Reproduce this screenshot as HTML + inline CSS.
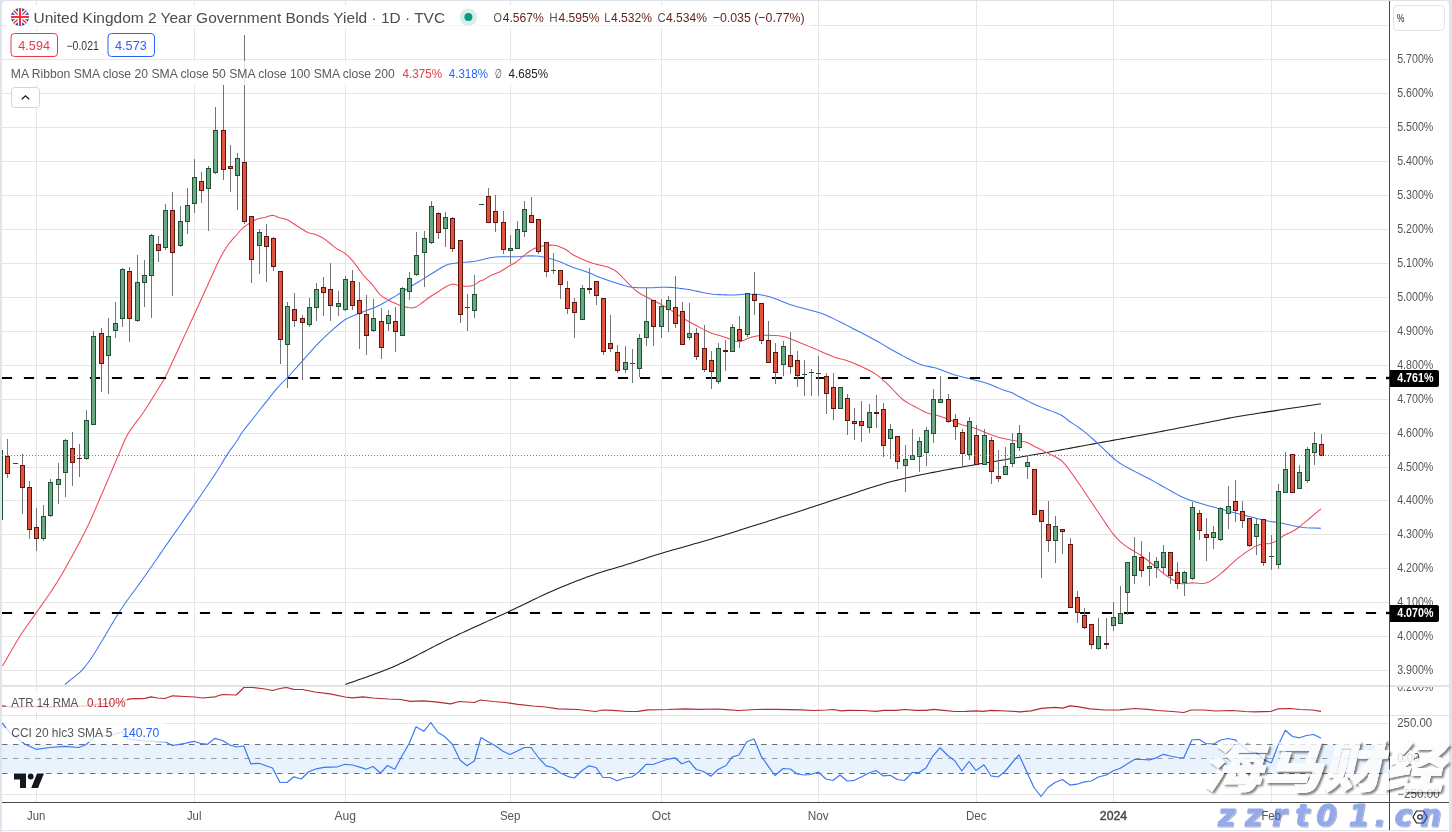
<!DOCTYPE html>
<html lang="en"><head><meta charset="utf-8"><title>United Kingdom 2 Year Government Bonds Yield</title>
<style>html,body{margin:0;padding:0;background:#fff;overflow:hidden}body{width:1452px;height:832px}svg text{white-space:pre}</style>
</head><body>
<svg width="1452" height="832" viewBox="0 0 1452 832" font-family="'Liberation Sans', sans-serif" style="display:block">
<defs>
<clipPath id="cpMain"><rect x="2" y="1" width="1387" height="684"/></clipPath>
<clipPath id="cpAtr"><rect x="2" y="687" width="1387" height="28"/></clipPath>
<clipPath id="cpCci"><rect x="2" y="716" width="1387" height="86"/></clipPath>
<clipPath id="cpAxMain"><rect x="1390" y="1" width="59" height="684"/></clipPath>
<clipPath id="cpAxAtr"><rect x="1390" y="687" width="59" height="28"/></clipPath>
<clipPath id="cpAxCci"><rect x="1390" y="716" width="59" height="86"/></clipPath>
<clipPath id="cpFlag"><circle cx="20" cy="17" r="9"/></clipPath>
<filter id="wmsh" x="-5%" y="-20%" width="110%" height="140%"><feGaussianBlur in="SourceAlpha" stdDeviation="1.1"/><feOffset dx="2" dy="2"/><feComponentTransfer><feFuncA type="linear" slope="1.5"/></feComponentTransfer><feComposite in2="SourceAlpha" operator="out" result="sh"/><feFlood flood-color="#000" flood-opacity="0.46"/><feComposite in2="sh" operator="in" result="shc"/><feMerge><feMergeNode in="shc"/><feMergeNode in="SourceGraphic"/></feMerge></filter>
<filter id="zsh" x="-5%" y="-20%" width="110%" height="140%"><feGaussianBlur in="SourceAlpha" stdDeviation="0.4"/><feOffset dx="1.4" dy="1.4"/><feComposite in2="SourceAlpha" operator="out" result="sh"/><feFlood flood-color="#3a3f60" flood-opacity="0.8"/><feComposite in2="sh" operator="in" result="shc"/><feMerge><feMergeNode in="shc"/><feMergeNode in="SourceGraphic"/></feMerge></filter>
</defs>
<rect x="0" y="0" width="1452" height="832" fill="#e0e3eb"/>
<path d="M6 1 H1445 Q1449 1 1449 5 V830 H2 V5 Q2 1 6 1 Z" fill="#fff"/>
<rect x="2" y="831" width="1447" height="1" fill="#fff"/>
<rect x="36" y="1" width="1" height="684" fill="#e6e6e6"/>
<rect x="36" y="687" width="1" height="28" fill="#e6e6e6"/>
<rect x="36" y="716" width="1" height="86" fill="#e6e6e6"/>
<rect x="194" y="1" width="1" height="684" fill="#e6e6e6"/>
<rect x="194" y="687" width="1" height="28" fill="#e6e6e6"/>
<rect x="194" y="716" width="1" height="86" fill="#e6e6e6"/>
<rect x="345" y="1" width="1" height="684" fill="#e6e6e6"/>
<rect x="345" y="687" width="1" height="28" fill="#e6e6e6"/>
<rect x="345" y="716" width="1" height="86" fill="#e6e6e6"/>
<rect x="510" y="1" width="1" height="684" fill="#e6e6e6"/>
<rect x="510" y="687" width="1" height="28" fill="#e6e6e6"/>
<rect x="510" y="716" width="1" height="86" fill="#e6e6e6"/>
<rect x="661" y="1" width="1" height="684" fill="#e6e6e6"/>
<rect x="661" y="687" width="1" height="28" fill="#e6e6e6"/>
<rect x="661" y="716" width="1" height="86" fill="#e6e6e6"/>
<rect x="818" y="1" width="1" height="684" fill="#e6e6e6"/>
<rect x="818" y="687" width="1" height="28" fill="#e6e6e6"/>
<rect x="818" y="716" width="1" height="86" fill="#e6e6e6"/>
<rect x="976" y="1" width="1" height="684" fill="#e6e6e6"/>
<rect x="976" y="687" width="1" height="28" fill="#e6e6e6"/>
<rect x="976" y="716" width="1" height="86" fill="#e6e6e6"/>
<rect x="1113" y="1" width="1" height="684" fill="#e6e6e6"/>
<rect x="1113" y="687" width="1" height="28" fill="#e6e6e6"/>
<rect x="1113" y="716" width="1" height="86" fill="#e6e6e6"/>
<rect x="1271" y="1" width="1" height="684" fill="#e6e6e6"/>
<rect x="1271" y="687" width="1" height="28" fill="#e6e6e6"/>
<rect x="1271" y="716" width="1" height="86" fill="#e6e6e6"/>
<rect x="2" y="25" width="1387" height="1" fill="#e6e6e6"/>
<rect x="2" y="59" width="1387" height="1" fill="#e6e6e6"/>
<rect x="2" y="93" width="1387" height="1" fill="#e6e6e6"/>
<rect x="2" y="127" width="1387" height="1" fill="#e6e6e6"/>
<rect x="2" y="161" width="1387" height="1" fill="#e6e6e6"/>
<rect x="2" y="195" width="1387" height="1" fill="#e6e6e6"/>
<rect x="2" y="229" width="1387" height="1" fill="#e6e6e6"/>
<rect x="2" y="263" width="1387" height="1" fill="#e6e6e6"/>
<rect x="2" y="297" width="1387" height="1" fill="#e6e6e6"/>
<rect x="2" y="331" width="1387" height="1" fill="#e6e6e6"/>
<rect x="2" y="365" width="1387" height="1" fill="#e6e6e6"/>
<rect x="2" y="399" width="1387" height="1" fill="#e6e6e6"/>
<rect x="2" y="433" width="1387" height="1" fill="#e6e6e6"/>
<rect x="2" y="467" width="1387" height="1" fill="#e6e6e6"/>
<rect x="2" y="500" width="1387" height="1" fill="#e6e6e6"/>
<rect x="2" y="534" width="1387" height="1" fill="#e6e6e6"/>
<rect x="2" y="568" width="1387" height="1" fill="#e6e6e6"/>
<rect x="2" y="602" width="1387" height="1" fill="#e6e6e6"/>
<rect x="2" y="636" width="1387" height="1" fill="#e6e6e6"/>
<rect x="2" y="670" width="1387" height="1" fill="#e6e6e6"/>
<rect x="2" y="723" width="1387" height="1" fill="#e6e6e6"/>
<rect x="2" y="794" width="1387" height="1" fill="#e6e6e6"/>
<g clip-path="url(#cpMain)">
<polyline points="345.5,684.5 348.58,683.36 351.65,682.25 354.7,681.16 357.75,680.09 360.78,679.02 363.82,677.96 366.86,676.89 369.91,675.81 372.96,674.72 376.03,673.6 379.13,672.45 382.24,671.26 385.38,670.03 388.55,668.74 391.76,667.4 395,666 397.91,664.7 400.84,663.34 403.79,661.94 406.76,660.49 409.74,659.01 412.74,657.5 415.76,655.96 418.79,654.4 421.84,652.81 424.91,651.22 427.99,649.61 431.09,648 434.21,646.39 437.34,644.78 440.48,643.19 443.64,641.6 446.81,640.04 450,638.5 452.91,637.11 455.89,635.71 458.92,634.29 462,632.86 465.12,631.43 468.26,629.98 471.43,628.54 474.6,627.09 477.77,625.65 480.94,624.22 484.08,622.8 487.2,621.39 490.28,620 493.31,618.63 496.29,617.28 499.2,615.96 502.04,614.66 504.79,613.41 507.45,612.18 510,611 513.73,609.25 517.26,607.58 520.6,605.97 523.78,604.43 526.84,602.94 529.8,601.49 532.69,600.08 535.53,598.7 538.35,597.35 541.18,596.01 544.05,594.67 546.98,593.34 550,592 553.08,590.66 556.15,589.34 559.23,588.03 562.31,586.74 565.38,585.47 568.46,584.21 571.54,582.98 574.62,581.76 577.69,580.57 580.77,579.39 583.85,578.24 586.92,577.11 590,576 593.1,574.92 596.24,573.86 599.42,572.83 602.6,571.81 605.79,570.82 608.98,569.85 612.14,568.9 615.27,567.97 618.36,567.05 621.38,566.14 624.34,565.25 627.22,564.37 630,563.5 633.31,562.44 636.23,561.48 638.89,560.6 641.42,559.75 643.94,558.91 646.58,558.03 649.48,557.08 652.77,556.04 656.56,554.85 661,553.5 663.33,552.8 665.75,552.08 668.26,551.35 670.86,550.6 673.53,549.82 676.29,549.03 679.13,548.22 682.04,547.39 685.03,546.54 688.1,545.66 691.23,544.77 694.43,543.85 697.7,542.91 701.04,541.94 704.43,540.96 707.89,539.94 711.4,538.91 714.97,537.84 718.6,536.76 722.27,535.64 726,534.5 728.67,533.67 731.44,532.82 734.29,531.93 737.23,531.01 740.23,530.07 743.3,529.1 746.43,528.12 749.61,527.11 752.83,526.09 756.09,525.06 759.38,524.01 762.7,522.95 766.03,521.89 769.37,520.82 772.72,519.75 776.06,518.68 779.39,517.61 782.7,516.55 785.99,515.49 789.24,514.44 792.46,513.41 795.63,512.39 798.74,511.38 801.8,510.4 804.79,509.43 807.71,508.49 810.54,507.57 813.29,506.68 815.95,505.83 818.5,505 822.39,503.74 826.17,502.5 829.84,501.29 833.4,500.11 836.86,498.96 840.22,497.84 843.48,496.74 846.64,495.68 849.72,494.64 852.7,493.64 855.6,492.66 858.41,491.72 861.14,490.81 863.8,489.92 866.38,489.07 868.88,488.26 871.32,487.47 873.69,486.72 876,486 880.46,484.64 884.31,483.51 887.68,482.56 890.7,481.74 893.49,481.03 896.19,480.37 898.92,479.72 901.82,479.05 905,478.3 908.02,477.6 911.03,476.92 914.05,476.26 917.09,475.61 920.16,474.98 923.29,474.34 926.49,473.7 929.79,473.05 933.18,472.38 936.7,471.7 939.51,471.16 942.43,470.6 945.43,470.04 948.51,469.47 951.63,468.89 954.8,468.31 957.99,467.73 961.19,467.15 964.37,466.58 967.53,466.02 970.65,465.46 973.71,464.92 976.7,464.4 979.88,463.85 983.03,463.31 986.16,462.78 989.27,462.27 992.35,461.76 995.41,461.26 998.45,460.76 1001.46,460.27 1004.45,459.78 1007.42,459.29 1010.37,458.79 1013.3,458.3 1016.39,457.77 1019.34,457.27 1022.19,456.79 1024.98,456.31 1027.76,455.83 1030.58,455.35 1033.47,454.85 1036.48,454.32 1039.66,453.76 1043.05,453.15 1046.7,452.5 1049.37,452.02 1052.16,451.51 1055.05,450.98 1058.03,450.44 1061.1,449.87 1064.23,449.29 1067.43,448.7 1070.66,448.11 1073.93,447.5 1077.22,446.89 1080.52,446.28 1083.81,445.67 1087.09,445.07 1090.34,444.47 1093.54,443.88 1096.7,443.3 1099.85,442.72 1103.04,442.14 1106.27,441.56 1109.51,440.97 1112.77,440.38 1116.04,439.79 1119.3,439.2 1122.54,438.61 1125.75,438.03 1128.93,437.45 1132.06,436.89 1135.14,436.33 1138.15,435.77 1141.09,435.24 1143.94,434.71 1146.7,434.2 1150.22,433.54 1153.57,432.91 1156.79,432.31 1159.89,431.72 1162.89,431.14 1165.83,430.58 1168.72,430.02 1171.59,429.47 1174.46,428.91 1177.35,428.35 1180.29,427.78 1183.3,427.2 1186.4,426.6 1189.59,425.97 1192.84,425.34 1196.11,424.7 1199.38,424.05 1202.62,423.41 1205.82,422.78 1208.93,422.17 1211.93,421.58 1214.79,421.02 1217.49,420.49 1220,420 1223.31,419.33 1225.42,418.87 1227,418.5 1228.7,418.13 1231.16,417.65 1235.04,416.98 1241,416 1243.03,415.67 1245.22,415.33 1247.57,414.96 1250.06,414.56 1252.68,414.16 1255.43,413.73 1258.3,413.29 1261.26,412.83 1264.33,412.36 1267.47,411.87 1270.69,411.38 1273.98,410.88 1277.31,410.37 1280.69,409.85 1284.11,409.33 1287.55,408.81 1291,408.28 1294.45,407.76 1297.9,407.23 1301.33,406.71 1304.73,406.19 1308.1,405.68 1311.42,405.17 1314.69,404.67 1317.88,404.18 1321,403.7" fill="none" stroke="#1a1a1a" stroke-width="1.05" stroke-linejoin="round" stroke-linecap="butt"/>
<polyline points="65,684.5 68.13,681.78 71.14,679.42 74.12,677.15 77.16,674.7 80.34,671.8 83.76,668.15 87.5,663.5 90.39,659.43 93.51,654.69 96.81,649.43 100.24,643.8 103.72,637.96 107.2,632.06 110.63,626.26 113.95,620.71 117.09,615.57 120,611 123.79,605.32 127.29,600.28 130.57,595.71 133.71,591.44 136.78,587.3 139.85,583.11 143,578.7 146.32,573.97 149.76,569.02 153.22,564.04 156.58,559.18 159.74,554.6 162.58,550.49 165,547 169.22,540.89 173.3,535 176.04,531.08 179.27,526.46 182.86,521.33 186.65,515.91 190.48,510.4 194.2,505 197.44,500.27 200.88,495.23 204.39,490.07 207.85,484.96 211.14,480.07 214.13,475.59 216.7,471.7 220.93,464.97 223.77,460.14 226.7,455.4 230.49,449.88 234.37,444.46 237.5,440 239.33,436.77 241.5,433.3 244.01,429.95 247.14,425.94 250.83,421.28 255,416 257.77,412.48 260.92,408.46 264.3,404.15 267.73,399.8 271.06,395.62 274.1,391.84 276.7,388.7 280.95,383.98 283.99,381.04 287.5,377.5 290.22,374.52 293.16,371.25 296.24,367.8 299.38,364.28 302.5,360.8 305.62,357.3 308.8,353.69 312,350.09 315.18,346.6 318.3,343.3 321.4,340.19 324.52,337.19 327.58,334.35 330.52,331.67 333.3,329.2 337.57,325.49 341.47,322.28 345,319.7 349.26,317.41 353.3,315.8 356.26,314.54 359.41,313.27 363.3,311.7 366.16,310.61 369.34,309.45 372.76,308.16 376.34,306.7 380,305 383.22,303.3 386.67,301.34 390.21,299.25 393.71,297.13 397.02,295.11 400,293.3 403.76,291.01 406.96,288.99 410.01,287.06 413.3,285 416.16,283.23 419.1,281.43 422.1,279.59 425.16,277.71 428.3,275.8 431.64,273.72 435.18,271.46 438.72,269.24 442.06,267.25 445,265.7 448.46,264.29 451.17,263.71 455,263.2 457.79,262.86 461.05,262.56 464.58,262.27 468.21,261.97 471.74,261.63 475,261.2 478.63,260.52 482.16,259.7 485.55,258.85 488.74,258.08 491.7,257.5 495.88,256.99 499.49,256.8 503.3,256.7 506.49,256.66 509.79,256.71 513.2,256.74 516.7,256.7 519.65,256.54 522.75,256.3 525.87,256.05 528.89,255.86 531.7,255.8 535.69,255.93 539.31,256.3 543.3,257 546.08,257.61 549.06,258.36 552.14,259.22 555.25,260.18 558.3,261.2 561.3,262.35 564.3,263.63 567.3,264.97 570.3,266.29 573.3,267.5 576.35,268.58 579.46,269.59 582.54,270.56 585.51,271.52 588.3,272.5 592.14,274.1 595.61,275.71 600,277.5 602.95,278.56 606.36,279.74 610,280.98 613.64,282.18 617.05,283.28 620,284.2 624.27,285.56 627.62,286.51 631.7,287.2 634.39,287.45 637.37,287.62 640.54,287.73 643.77,287.78 646.97,287.8 650,287.8 653.36,287.71 656.56,287.51 659.74,287.29 663.07,287.15 666.7,287.2 669.53,287.36 672.51,287.59 675.61,287.88 678.78,288.22 681.98,288.61 685.17,289.04 688.3,289.5 691.39,290.04 694.49,290.67 697.59,291.37 700.69,292.07 703.8,292.74 706.9,293.33 710,293.8 713.16,294.15 716.4,294.43 719.65,294.64 722.87,294.79 725.99,294.89 728.95,294.96 731.7,295 735.16,294.95 738.26,294.76 741.14,294.52 743.92,294.31 746.7,294.2 750.14,294.17 753.46,294.19 756.71,294.35 760,294.7 763.21,295.24 766.34,295.94 769.63,296.85 773.3,298 775.95,298.95 778.68,300.04 781.54,301.24 784.6,302.49 787.9,303.76 791.5,305 794.19,305.83 797.19,306.68 800.39,307.56 803.69,308.44 807.01,309.31 810.25,310.17 813.31,310.99 816.09,311.77 818.5,312.5 822.47,313.81 825.19,314.84 827.69,315.96 831,317.5 833.85,318.85 836.96,320.37 840.28,322.03 843.76,323.8 847.35,325.63 851,327.5 853.82,328.94 856.77,330.45 859.81,332 862.89,333.59 865.99,335.2 869.07,336.82 872.08,338.42 875,340 878.21,341.79 881.32,343.59 884.38,345.4 887.41,347.2 890.45,348.99 893.54,350.76 896.7,352.5 900,354.28 903.43,356.12 906.92,357.97 910.39,359.76 913.78,361.43 917,362.93 920,364.2 923.76,365.47 927.16,366.29 930.34,366.87 933.47,367.47 936.7,368.3 940.02,369.44 943.34,370.72 946.66,372.06 949.98,373.35 953.3,374.5 956.63,375.48 959.97,376.35 963.32,377.16 966.66,377.96 970,378.8 973.34,379.65 976.68,380.48 980.03,381.33 983.37,382.26 986.7,383.3 990.16,384.57 993.75,386.02 997.27,387.52 1000.52,388.89 1003.3,390 1008.16,391.51 1011.5,392.5 1013.01,393.28 1016,395 1018.38,396.23 1021.33,397.78 1024.72,399.53 1028.39,401.39 1032.2,403.25 1036,405 1039.01,406.28 1042.33,407.62 1045.82,408.97 1049.34,410.31 1052.76,411.62 1055.93,412.85 1058.73,413.99 1061,415 1064.82,417.45 1067.5,420 1070.1,421.77 1073.27,423.86 1076.71,426.14 1080.14,428.49 1083.3,430.8 1086.82,433.64 1090.16,436.54 1093.41,439.5 1096.7,442.5 1100.11,445.67 1103.56,448.96 1106.91,452.15 1110,455 1113.27,458.01 1116.17,460.56 1120,463.3 1122.65,464.92 1125.73,466.66 1129.04,468.45 1132.38,470.21 1135.54,471.85 1138.3,473.3 1142.63,475.51 1146.23,477.27 1150,479.2 1153.06,480.89 1156.13,482.64 1159.47,484.56 1163.3,486.7 1166.28,488.37 1169.59,490.24 1173.09,492.21 1176.63,494.15 1180.08,495.95 1183.3,497.5 1186.85,499 1190.22,500.23 1193.48,501.3 1196.71,502.29 1200,503.3 1203.34,504.31 1206.68,505.27 1210.03,506.19 1213.37,507.09 1216.7,508 1220.02,508.92 1223.34,509.83 1226.66,510.73 1229.98,511.62 1233.3,512.5 1236.63,513.36 1239.97,514.21 1243.32,515.04 1246.66,515.87 1250,516.7 1253.39,517.56 1256.84,518.45 1260.26,519.32 1263.58,520.12 1266.7,520.8 1270.26,521.42 1273.56,521.87 1276.75,522.28 1280,522.8 1283.32,523.5 1286.64,524.3 1289.97,525.1 1293.3,525.8 1296.62,526.41 1299.94,526.96 1303.28,527.44 1306.7,527.8 1310.21,528.01 1313.79,528.1 1317.4,528.14 1321,528.2" fill="none" stroke="#3d78f2" stroke-width="1.05" stroke-linejoin="round" stroke-linecap="butt"/>
<polyline points="2.5,666 6,659.92 9.5,653.76 13,647.64 16.5,641.68 20,636 23.43,630.8 26.8,625.99 30.2,621.29 33.73,616.39 37.5,611 40.34,606.9 43.27,602.73 46.29,598.44 49.39,593.95 52.58,589.21 55.85,584.15 59.2,578.7 62.3,573.44 65.61,567.66 69.05,561.55 72.52,555.27 75.94,548.97 79.21,542.84 82.26,537.02 85,531.7 88.64,524.3 91.62,517.82 94.28,511.69 96.96,505.37 100,498.3 102.96,491.46 106.16,483.93 109.46,476.14 112.69,468.51 115.69,461.46 118.3,455.4 122.06,446.44 124.9,439.8 128.3,433.3 130.99,429.08 133.98,424.97 137.12,420.88 140.27,416.75 143.3,412.5 147.06,406.76 150.87,400.73 154.44,394.96 157.5,390 161.62,383.44 165,377.5 168.37,370.68 173.3,360 175.99,354.2 179.22,347.23 182.78,339.55 186.44,331.6 190.02,323.83 193.3,316.7 196.96,308.7 200.54,300.82 203.96,293.28 207.14,286.27 210,280 213.86,271.41 216.97,264.48 220,258.3 223.19,252.56 226.29,247.56 229.2,243.3 233.11,238.68 236.7,235 239.63,231.25 243.3,227.5 246.29,225.33 249.89,222.99 253.55,220.83 256.7,219.2 261.22,217.97 265,217.5 268.91,216.1 272.5,215.2 275.34,216.08 278.3,217.5 282.14,218.19 286.7,219.5 290.39,221.56 294.43,224.19 298.3,226.7 301.94,229 305.4,231.19 308.3,232.8 310.8,233.4 313.3,233.8 316.14,234.82 319.53,236.23 323.3,238.3 326.53,240.62 330.11,243.49 333.63,246.37 336.7,248.7 341.17,251.12 345,253.3 349.04,256.96 353.3,261.7 356.51,265.86 359.9,270.57 363.3,275 366.76,278.86 370.21,282.43 373.3,285.8 376.76,290.59 380,294.7 383.84,297.57 388.3,300 392.07,301.91 396.23,303.83 400,305.4 404.41,306.87 408.3,307.6 411.89,307.98 415.8,307.1 419.4,304.85 423.38,301.77 426.7,299.2 429.47,297.26 431.7,295.8 434.89,293.82 438.3,291.7 441.62,289.38 445,287.2 448.61,285.37 452,284.2 454.44,284.34 457,285 460.81,285.69 465,286.2 469.06,286.26 473,285.6 476.79,283.33 480,281 481.56,280.52 483.3,280 487.19,277.64 491.7,275 495.75,273.42 500,271.7 503.33,269.76 506.85,267.5 510,265.5 513.35,263.74 516.7,261.7 519.79,259.14 523.24,256.08 526.7,253.3 529.91,251.05 533.12,249.09 536.7,247.5 539.91,246.55 543.46,245.81 546.95,245.28 550,245 554.46,245.26 558.3,246.3 562.61,247.92 566.7,250 569.59,252.31 573.3,255 575.84,256.29 578.94,257.74 582.26,259.2 585.49,260.57 588.3,261.7 592.06,263.01 595.27,263.91 598.3,264.7 602.92,265.81 606.7,266.7 608.46,267.24 610,268 613.04,269.41 616.7,271.7 620.85,275.66 625,280 628.46,283.51 631.7,286.7 634.69,289.62 638.3,292.5 641.64,294.47 645.54,296.5 650,298.8 653.02,300.35 656.32,302.01 659.79,303.75 663.29,305.59 666.7,307.5 670.08,309.58 673.5,311.83 676.9,314.12 680.19,316.32 683.3,318.3 686.88,320.43 690.21,322.31 693.43,324.06 696.7,325.8 700.03,327.59 703.36,329.36 706.68,331.02 710,332.5 713.4,333.74 716.86,334.79 720.21,335.75 723.3,336.7 727,338.03 730.33,339.29 733.3,340.3 736.65,341.49 740,341.7 743.15,340.62 746.67,338.92 750,337.5 754.25,336.42 758.3,335.8 762.08,335.39 766.7,335.3 769.33,335.34 772.39,335.42 775.63,335.56 778.81,335.81 781.7,336.2 785.57,337.11 789.06,338.35 793.3,340 795.94,341.02 798.81,342.16 801.88,343.41 805.08,344.74 808.37,346.11 811.7,347.5 814.66,348.76 817.78,350.13 820.99,351.54 824.22,352.96 827.39,354.33 830.44,355.59 833.3,356.7 836.9,357.9 840.17,358.81 843.32,359.61 846.53,360.5 850,361.7 853.24,362.99 856.73,364.47 860.31,366.06 863.83,367.7 867.11,369.3 870,370.8 874.52,373.43 878.11,375.94 881.7,378.8 885.63,382.34 889.56,386.24 893.3,390 896.69,393.54 899.9,396.96 903.3,400 907.07,402.5 911.04,404.63 915,406.7 918.9,408.89 922.81,411.02 926.7,412.8 930.57,413.99 934.43,414.83 938.3,415.8 942.19,417.09 946.1,418.52 950,420 953.84,421.57 957.68,423.2 961.7,424.7 964.83,425.6 968.04,426.37 971.4,427.21 975,428.3 978.23,429.5 981.76,430.93 985.34,432.44 988.73,433.85 991.7,435 995.41,436.28 998.37,437.15 1001.7,438 1004.85,438.75 1008.3,439.51 1011.77,440.22 1015,440.8 1018.84,441.19 1022.41,441.4 1025.8,442 1028.77,443.2 1031.56,444.8 1035,446.7 1037.68,448.04 1040.74,449.54 1043.96,451.13 1047.12,452.71 1050,454.2 1054.21,456.25 1058.05,458.2 1061.7,460.8 1065.1,464.37 1068.31,468.6 1071.7,473.3 1075.38,478.43 1079.24,484.03 1083.3,490 1086.45,494.67 1089.69,499.53 1093.08,504.63 1096.7,510 1099.92,514.8 1103.43,520.06 1106.98,525.34 1110.35,530.2 1113.3,534.2 1117.12,538.71 1120.21,541.64 1123.3,544.2 1126.63,546.67 1129.97,548.76 1133.3,550.8 1136.63,552.83 1139.97,554.81 1143.3,557 1146.63,559.52 1149.97,562.24 1153.3,565 1156.63,567.8 1159.97,570.64 1163.3,573.3 1166.69,575.76 1170.09,578.04 1173.3,580 1177.5,582.38 1181.7,583.8 1184.79,583.77 1188.06,583.2 1191.7,582.8 1194.91,582.93 1198.46,583.24 1201.95,583.46 1205,583.3 1209.25,581.86 1213.3,579.2 1216.95,576.57 1220.97,573.37 1225,570 1228.84,566.47 1232.68,562.77 1236.7,559.2 1239.99,556.61 1243.46,554.05 1246.87,551.66 1250,549.6 1253.58,547.39 1256.79,545.66 1260,544.4 1263.46,543.81 1266.91,543.7 1270,543.4 1273.56,542.35 1276.7,540.8 1279.69,538.5 1283.3,535.8 1286.82,534.05 1290.91,532.21 1295,530 1298.8,527.29 1302.61,524.2 1306.7,520.8 1310.09,518 1313.69,514.97 1317.36,511.87 1321,508.8" fill="none" stroke="#f0475a" stroke-width="1.05" stroke-linejoin="round" stroke-linecap="butt"/>
<line x1="1.9" y1="378" x2="1390" y2="378" stroke="#000" stroke-width="2.2" stroke-dasharray="10.2 11.8"/>
<line x1="1.9" y1="613" x2="1390" y2="613" stroke="#000" stroke-width="2.2" stroke-dasharray="10.2 11.8"/>
<rect x="0" y="450" width="1" height="70" fill="#737378"/>
<rect x="-2" y="450" width="5" height="70" fill="#1e5233"/>
<rect x="-1" y="451" width="3" height="68" fill="#6aa883"/>
<rect x="7" y="439" width="1" height="39" fill="#737378"/>
<rect x="5" y="456" width="5" height="18" fill="#5c1610"/>
<rect x="6" y="457" width="3" height="16" fill="#e0543f"/>
<rect x="15" y="463" width="1" height="1" fill="#737378"/>
<rect x="13" y="463" width="5" height="1" fill="#1e5233"/>
<rect x="22" y="454" width="1" height="60" fill="#737378"/>
<rect x="20" y="465" width="5" height="23" fill="#5c1610"/>
<rect x="21" y="466" width="3" height="21" fill="#e0543f"/>
<rect x="29" y="481" width="1" height="58" fill="#737378"/>
<rect x="27" y="487" width="5" height="43" fill="#5c1610"/>
<rect x="28" y="488" width="3" height="41" fill="#e0543f"/>
<rect x="36" y="508" width="1" height="43" fill="#737378"/>
<rect x="34" y="527" width="5" height="12" fill="#5c1610"/>
<rect x="35" y="528" width="3" height="10" fill="#e0543f"/>
<rect x="43" y="505" width="1" height="36" fill="#737378"/>
<rect x="41" y="516" width="5" height="23" fill="#1e5233"/>
<rect x="42" y="517" width="3" height="21" fill="#6aa883"/>
<rect x="50" y="479" width="1" height="38" fill="#737378"/>
<rect x="48" y="482" width="5" height="34" fill="#1e5233"/>
<rect x="49" y="483" width="3" height="32" fill="#6aa883"/>
<rect x="58" y="463" width="1" height="41" fill="#737378"/>
<rect x="56" y="479" width="5" height="6" fill="#1e5233"/>
<rect x="57" y="480" width="3" height="4" fill="#6aa883"/>
<rect x="65" y="439" width="1" height="58" fill="#737378"/>
<rect x="63" y="440" width="5" height="33" fill="#1e5233"/>
<rect x="64" y="441" width="3" height="31" fill="#6aa883"/>
<rect x="72" y="432" width="1" height="54" fill="#737378"/>
<rect x="70" y="448" width="5" height="15" fill="#5c1610"/>
<rect x="71" y="449" width="3" height="13" fill="#e0543f"/>
<rect x="79" y="444" width="1" height="33" fill="#737378"/>
<rect x="77" y="458" width="5" height="1" fill="#5c1610"/>
<rect x="86" y="410" width="1" height="50" fill="#737378"/>
<rect x="84" y="420" width="5" height="39" fill="#1e5233"/>
<rect x="85" y="421" width="3" height="37" fill="#6aa883"/>
<rect x="93" y="331" width="1" height="94" fill="#737378"/>
<rect x="91" y="336" width="5" height="89" fill="#1e5233"/>
<rect x="92" y="337" width="3" height="87" fill="#6aa883"/>
<rect x="101" y="328" width="1" height="64" fill="#737378"/>
<rect x="99" y="333" width="5" height="31" fill="#5c1610"/>
<rect x="100" y="334" width="3" height="29" fill="#e0543f"/>
<rect x="108" y="318" width="1" height="76" fill="#737378"/>
<rect x="106" y="336" width="5" height="20" fill="#1e5233"/>
<rect x="107" y="337" width="3" height="18" fill="#6aa883"/>
<rect x="115" y="302" width="1" height="36" fill="#737378"/>
<rect x="113" y="323" width="5" height="8" fill="#1e5233"/>
<rect x="114" y="324" width="3" height="6" fill="#6aa883"/>
<rect x="122" y="268" width="1" height="59" fill="#737378"/>
<rect x="120" y="269" width="5" height="50" fill="#1e5233"/>
<rect x="121" y="270" width="3" height="48" fill="#6aa883"/>
<rect x="129" y="267" width="1" height="75" fill="#737378"/>
<rect x="127" y="271" width="5" height="48" fill="#5c1610"/>
<rect x="128" y="272" width="3" height="46" fill="#e0543f"/>
<rect x="137" y="255" width="1" height="67" fill="#737378"/>
<rect x="135" y="282" width="5" height="39" fill="#1e5233"/>
<rect x="136" y="283" width="3" height="37" fill="#6aa883"/>
<rect x="144" y="260" width="1" height="47" fill="#737378"/>
<rect x="142" y="275" width="5" height="8" fill="#1e5233"/>
<rect x="143" y="276" width="3" height="6" fill="#6aa883"/>
<rect x="151" y="234" width="1" height="84" fill="#737378"/>
<rect x="149" y="235" width="5" height="41" fill="#1e5233"/>
<rect x="150" y="236" width="3" height="39" fill="#6aa883"/>
<rect x="158" y="236" width="1" height="26" fill="#737378"/>
<rect x="156" y="244" width="5" height="7" fill="#5c1610"/>
<rect x="157" y="245" width="3" height="5" fill="#e0543f"/>
<rect x="165" y="204" width="1" height="46" fill="#737378"/>
<rect x="163" y="210" width="5" height="38" fill="#1e5233"/>
<rect x="164" y="211" width="3" height="36" fill="#6aa883"/>
<rect x="172" y="192" width="1" height="104" fill="#737378"/>
<rect x="170" y="210" width="5" height="43" fill="#5c1610"/>
<rect x="171" y="211" width="3" height="41" fill="#e0543f"/>
<rect x="180" y="206" width="1" height="41" fill="#737378"/>
<rect x="178" y="221" width="5" height="25" fill="#1e5233"/>
<rect x="179" y="222" width="3" height="23" fill="#6aa883"/>
<rect x="187" y="188" width="1" height="46" fill="#737378"/>
<rect x="185" y="205" width="5" height="17" fill="#1e5233"/>
<rect x="186" y="206" width="3" height="15" fill="#6aa883"/>
<rect x="194" y="159" width="1" height="54" fill="#737378"/>
<rect x="192" y="177" width="5" height="27" fill="#1e5233"/>
<rect x="193" y="178" width="3" height="25" fill="#6aa883"/>
<rect x="201" y="172" width="1" height="31" fill="#737378"/>
<rect x="199" y="181" width="5" height="10" fill="#5c1610"/>
<rect x="200" y="182" width="3" height="8" fill="#e0543f"/>
<rect x="208" y="166" width="1" height="65" fill="#737378"/>
<rect x="206" y="168" width="5" height="21" fill="#1e5233"/>
<rect x="207" y="169" width="3" height="19" fill="#6aa883"/>
<rect x="215" y="107" width="1" height="67" fill="#737378"/>
<rect x="213" y="130" width="5" height="43" fill="#1e5233"/>
<rect x="214" y="131" width="3" height="41" fill="#6aa883"/>
<rect x="223" y="84" width="1" height="96" fill="#737378"/>
<rect x="221" y="130" width="5" height="40" fill="#5c1610"/>
<rect x="222" y="131" width="3" height="38" fill="#e0543f"/>
<rect x="230" y="145" width="1" height="47" fill="#737378"/>
<rect x="228" y="166" width="5" height="3" fill="#5c1610"/>
<rect x="229" y="167" width="3" height="1" fill="#e0543f"/>
<rect x="237" y="153" width="1" height="57" fill="#737378"/>
<rect x="235" y="158" width="5" height="18" fill="#1e5233"/>
<rect x="236" y="159" width="3" height="16" fill="#6aa883"/>
<rect x="244" y="35" width="1" height="189" fill="#737378"/>
<rect x="242" y="162" width="5" height="60" fill="#5c1610"/>
<rect x="243" y="163" width="3" height="58" fill="#e0543f"/>
<rect x="251" y="216" width="1" height="67" fill="#737378"/>
<rect x="249" y="216" width="5" height="44" fill="#5c1610"/>
<rect x="250" y="217" width="3" height="42" fill="#e0543f"/>
<rect x="259" y="229" width="1" height="45" fill="#737378"/>
<rect x="257" y="232" width="5" height="14" fill="#1e5233"/>
<rect x="258" y="233" width="3" height="12" fill="#6aa883"/>
<rect x="266" y="224" width="1" height="58" fill="#737378"/>
<rect x="264" y="236" width="5" height="11" fill="#5c1610"/>
<rect x="265" y="237" width="3" height="9" fill="#e0543f"/>
<rect x="273" y="237" width="1" height="34" fill="#737378"/>
<rect x="271" y="238" width="5" height="29" fill="#5c1610"/>
<rect x="272" y="239" width="3" height="27" fill="#e0543f"/>
<rect x="280" y="271" width="1" height="93" fill="#737378"/>
<rect x="278" y="271" width="5" height="69" fill="#5c1610"/>
<rect x="279" y="272" width="3" height="67" fill="#e0543f"/>
<rect x="287" y="302" width="1" height="86" fill="#737378"/>
<rect x="285" y="306" width="5" height="39" fill="#1e5233"/>
<rect x="286" y="307" width="3" height="37" fill="#6aa883"/>
<rect x="294" y="293" width="1" height="34" fill="#737378"/>
<rect x="292" y="309" width="5" height="12" fill="#5c1610"/>
<rect x="293" y="310" width="3" height="10" fill="#e0543f"/>
<rect x="302" y="315" width="1" height="65" fill="#737378"/>
<rect x="300" y="318" width="5" height="5" fill="#5c1610"/>
<rect x="301" y="319" width="3" height="3" fill="#e0543f"/>
<rect x="309" y="298" width="1" height="29" fill="#737378"/>
<rect x="307" y="307" width="5" height="18" fill="#1e5233"/>
<rect x="308" y="308" width="3" height="16" fill="#6aa883"/>
<rect x="316" y="283" width="1" height="38" fill="#737378"/>
<rect x="314" y="289" width="5" height="19" fill="#1e5233"/>
<rect x="315" y="290" width="3" height="17" fill="#6aa883"/>
<rect x="323" y="277" width="1" height="39" fill="#737378"/>
<rect x="321" y="287" width="5" height="6" fill="#5c1610"/>
<rect x="322" y="288" width="3" height="4" fill="#e0543f"/>
<rect x="330" y="263" width="1" height="58" fill="#737378"/>
<rect x="328" y="289" width="5" height="17" fill="#5c1610"/>
<rect x="329" y="290" width="3" height="15" fill="#e0543f"/>
<rect x="338" y="291" width="1" height="25" fill="#737378"/>
<rect x="336" y="303" width="5" height="4" fill="#1e5233"/>
<rect x="337" y="304" width="3" height="2" fill="#6aa883"/>
<rect x="345" y="276" width="1" height="35" fill="#737378"/>
<rect x="343" y="279" width="5" height="31" fill="#1e5233"/>
<rect x="344" y="280" width="3" height="29" fill="#6aa883"/>
<rect x="352" y="270" width="1" height="40" fill="#737378"/>
<rect x="350" y="281" width="5" height="25" fill="#5c1610"/>
<rect x="351" y="282" width="3" height="23" fill="#e0543f"/>
<rect x="359" y="282" width="1" height="67" fill="#737378"/>
<rect x="357" y="300" width="5" height="14" fill="#5c1610"/>
<rect x="358" y="301" width="3" height="12" fill="#e0543f"/>
<rect x="366" y="295" width="1" height="60" fill="#737378"/>
<rect x="364" y="314" width="5" height="22" fill="#5c1610"/>
<rect x="365" y="315" width="3" height="20" fill="#e0543f"/>
<rect x="373" y="299" width="1" height="33" fill="#737378"/>
<rect x="371" y="318" width="5" height="13" fill="#1e5233"/>
<rect x="372" y="319" width="3" height="11" fill="#6aa883"/>
<rect x="381" y="308" width="1" height="51" fill="#737378"/>
<rect x="379" y="321" width="5" height="27" fill="#5c1610"/>
<rect x="380" y="322" width="3" height="25" fill="#e0543f"/>
<rect x="388" y="310" width="1" height="21" fill="#737378"/>
<rect x="386" y="315" width="5" height="9" fill="#1e5233"/>
<rect x="387" y="316" width="3" height="7" fill="#6aa883"/>
<rect x="395" y="307" width="1" height="45" fill="#737378"/>
<rect x="393" y="321" width="5" height="11" fill="#5c1610"/>
<rect x="394" y="322" width="3" height="9" fill="#e0543f"/>
<rect x="402" y="287" width="1" height="49" fill="#737378"/>
<rect x="400" y="288" width="5" height="48" fill="#1e5233"/>
<rect x="401" y="289" width="3" height="46" fill="#6aa883"/>
<rect x="409" y="272" width="1" height="28" fill="#737378"/>
<rect x="407" y="278" width="5" height="14" fill="#1e5233"/>
<rect x="408" y="279" width="3" height="12" fill="#6aa883"/>
<rect x="416" y="232" width="1" height="44" fill="#737378"/>
<rect x="414" y="255" width="5" height="20" fill="#1e5233"/>
<rect x="415" y="256" width="3" height="18" fill="#6aa883"/>
<rect x="424" y="231" width="1" height="56" fill="#737378"/>
<rect x="422" y="238" width="5" height="15" fill="#1e5233"/>
<rect x="423" y="239" width="3" height="13" fill="#6aa883"/>
<rect x="431" y="201" width="1" height="43" fill="#737378"/>
<rect x="429" y="206" width="5" height="37" fill="#1e5233"/>
<rect x="430" y="207" width="3" height="35" fill="#6aa883"/>
<rect x="438" y="212" width="1" height="27" fill="#737378"/>
<rect x="436" y="213" width="5" height="20" fill="#5c1610"/>
<rect x="437" y="214" width="3" height="18" fill="#e0543f"/>
<rect x="445" y="212" width="1" height="35" fill="#737378"/>
<rect x="443" y="217" width="5" height="12" fill="#1e5233"/>
<rect x="444" y="218" width="3" height="10" fill="#6aa883"/>
<rect x="452" y="217" width="1" height="35" fill="#737378"/>
<rect x="450" y="218" width="5" height="31" fill="#5c1610"/>
<rect x="451" y="219" width="3" height="29" fill="#e0543f"/>
<rect x="460" y="240" width="1" height="83" fill="#737378"/>
<rect x="458" y="240" width="5" height="75" fill="#5c1610"/>
<rect x="459" y="241" width="3" height="73" fill="#e0543f"/>
<rect x="467" y="294" width="1" height="37" fill="#737378"/>
<rect x="465" y="307" width="5" height="1" fill="#1e5233"/>
<rect x="474" y="275" width="1" height="43" fill="#737378"/>
<rect x="472" y="294" width="5" height="17" fill="#1e5233"/>
<rect x="473" y="295" width="3" height="15" fill="#6aa883"/>
<rect x="481" y="204" width="1" height="1" fill="#737378"/>
<rect x="479" y="204" width="5" height="1" fill="#1e5233"/>
<rect x="488" y="188" width="1" height="35" fill="#737378"/>
<rect x="486" y="196" width="5" height="27" fill="#5c1610"/>
<rect x="487" y="197" width="3" height="25" fill="#e0543f"/>
<rect x="495" y="195" width="1" height="37" fill="#737378"/>
<rect x="493" y="211" width="5" height="12" fill="#5c1610"/>
<rect x="494" y="212" width="3" height="10" fill="#e0543f"/>
<rect x="503" y="211" width="1" height="43" fill="#737378"/>
<rect x="501" y="222" width="5" height="28" fill="#5c1610"/>
<rect x="502" y="223" width="3" height="26" fill="#e0543f"/>
<rect x="510" y="235" width="1" height="29" fill="#737378"/>
<rect x="508" y="248" width="5" height="3" fill="#1e5233"/>
<rect x="509" y="249" width="3" height="1" fill="#6aa883"/>
<rect x="517" y="221" width="1" height="28" fill="#737378"/>
<rect x="515" y="229" width="5" height="20" fill="#1e5233"/>
<rect x="516" y="230" width="3" height="18" fill="#6aa883"/>
<rect x="524" y="201" width="1" height="36" fill="#737378"/>
<rect x="522" y="209" width="5" height="23" fill="#1e5233"/>
<rect x="523" y="210" width="3" height="21" fill="#6aa883"/>
<rect x="531" y="197" width="1" height="26" fill="#737378"/>
<rect x="529" y="215" width="5" height="8" fill="#5c1610"/>
<rect x="530" y="216" width="3" height="6" fill="#e0543f"/>
<rect x="538" y="219" width="1" height="35" fill="#737378"/>
<rect x="536" y="219" width="5" height="33" fill="#5c1610"/>
<rect x="537" y="220" width="3" height="31" fill="#e0543f"/>
<rect x="546" y="242" width="1" height="35" fill="#737378"/>
<rect x="544" y="242" width="5" height="30" fill="#5c1610"/>
<rect x="545" y="243" width="3" height="28" fill="#e0543f"/>
<rect x="553" y="253" width="1" height="21" fill="#737378"/>
<rect x="551" y="270" width="5" height="1" fill="#1e5233"/>
<rect x="560" y="270" width="1" height="29" fill="#737378"/>
<rect x="558" y="270" width="5" height="15" fill="#5c1610"/>
<rect x="559" y="271" width="3" height="13" fill="#e0543f"/>
<rect x="567" y="281" width="1" height="33" fill="#737378"/>
<rect x="565" y="288" width="5" height="21" fill="#5c1610"/>
<rect x="566" y="289" width="3" height="19" fill="#e0543f"/>
<rect x="574" y="298" width="1" height="40" fill="#737378"/>
<rect x="572" y="302" width="5" height="11" fill="#5c1610"/>
<rect x="573" y="303" width="3" height="9" fill="#e0543f"/>
<rect x="582" y="285" width="1" height="35" fill="#737378"/>
<rect x="580" y="288" width="5" height="32" fill="#1e5233"/>
<rect x="581" y="289" width="3" height="30" fill="#6aa883"/>
<rect x="589" y="268" width="1" height="26" fill="#737378"/>
<rect x="587" y="288" width="5" height="2" fill="#5c1610"/>
<rect x="596" y="281" width="1" height="24" fill="#737378"/>
<rect x="594" y="281" width="5" height="15" fill="#5c1610"/>
<rect x="595" y="282" width="3" height="13" fill="#e0543f"/>
<rect x="603" y="298" width="1" height="57" fill="#737378"/>
<rect x="601" y="298" width="5" height="54" fill="#5c1610"/>
<rect x="602" y="299" width="3" height="52" fill="#e0543f"/>
<rect x="610" y="315" width="1" height="37" fill="#737378"/>
<rect x="608" y="343" width="5" height="6" fill="#5c1610"/>
<rect x="609" y="344" width="3" height="4" fill="#e0543f"/>
<rect x="617" y="345" width="1" height="28" fill="#737378"/>
<rect x="615" y="352" width="5" height="19" fill="#5c1610"/>
<rect x="616" y="353" width="3" height="17" fill="#e0543f"/>
<rect x="625" y="346" width="1" height="27" fill="#737378"/>
<rect x="623" y="362" width="5" height="8" fill="#1e5233"/>
<rect x="624" y="363" width="3" height="6" fill="#6aa883"/>
<rect x="632" y="349" width="1" height="34" fill="#737378"/>
<rect x="630" y="363" width="5" height="1" fill="#1e5233"/>
<rect x="639" y="334" width="1" height="43" fill="#737378"/>
<rect x="637" y="338" width="5" height="31" fill="#1e5233"/>
<rect x="638" y="339" width="3" height="29" fill="#6aa883"/>
<rect x="646" y="288" width="1" height="58" fill="#737378"/>
<rect x="644" y="321" width="5" height="17" fill="#1e5233"/>
<rect x="645" y="322" width="3" height="15" fill="#6aa883"/>
<rect x="653" y="300" width="1" height="46" fill="#737378"/>
<rect x="651" y="300" width="5" height="27" fill="#5c1610"/>
<rect x="652" y="301" width="3" height="25" fill="#e0543f"/>
<rect x="661" y="299" width="1" height="39" fill="#737378"/>
<rect x="659" y="306" width="5" height="21" fill="#1e5233"/>
<rect x="660" y="307" width="3" height="19" fill="#6aa883"/>
<rect x="668" y="296" width="1" height="36" fill="#737378"/>
<rect x="666" y="300" width="5" height="10" fill="#1e5233"/>
<rect x="667" y="301" width="3" height="8" fill="#6aa883"/>
<rect x="675" y="276" width="1" height="52" fill="#737378"/>
<rect x="673" y="307" width="5" height="17" fill="#5c1610"/>
<rect x="674" y="308" width="3" height="15" fill="#e0543f"/>
<rect x="682" y="302" width="1" height="43" fill="#737378"/>
<rect x="680" y="311" width="5" height="34" fill="#5c1610"/>
<rect x="681" y="312" width="3" height="32" fill="#e0543f"/>
<rect x="689" y="303" width="1" height="37" fill="#737378"/>
<rect x="687" y="333" width="5" height="5" fill="#1e5233"/>
<rect x="688" y="334" width="3" height="3" fill="#6aa883"/>
<rect x="696" y="328" width="1" height="32" fill="#737378"/>
<rect x="694" y="333" width="5" height="24" fill="#5c1610"/>
<rect x="695" y="334" width="3" height="22" fill="#e0543f"/>
<rect x="704" y="325" width="1" height="47" fill="#737378"/>
<rect x="702" y="348" width="5" height="22" fill="#5c1610"/>
<rect x="703" y="349" width="3" height="20" fill="#e0543f"/>
<rect x="711" y="351" width="1" height="38" fill="#737378"/>
<rect x="709" y="360" width="5" height="12" fill="#5c1610"/>
<rect x="710" y="361" width="3" height="10" fill="#e0543f"/>
<rect x="718" y="343" width="1" height="41" fill="#737378"/>
<rect x="716" y="348" width="5" height="34" fill="#1e5233"/>
<rect x="717" y="349" width="3" height="32" fill="#6aa883"/>
<rect x="725" y="340" width="1" height="31" fill="#737378"/>
<rect x="723" y="350" width="5" height="2" fill="#5c1610"/>
<rect x="732" y="324" width="1" height="28" fill="#737378"/>
<rect x="730" y="327" width="5" height="25" fill="#1e5233"/>
<rect x="731" y="328" width="3" height="23" fill="#6aa883"/>
<rect x="739" y="316" width="1" height="32" fill="#737378"/>
<rect x="737" y="329" width="5" height="12" fill="#5c1610"/>
<rect x="738" y="330" width="3" height="10" fill="#e0543f"/>
<rect x="747" y="293" width="1" height="44" fill="#737378"/>
<rect x="745" y="293" width="5" height="42" fill="#1e5233"/>
<rect x="746" y="294" width="3" height="40" fill="#6aa883"/>
<rect x="754" y="272" width="1" height="43" fill="#737378"/>
<rect x="752" y="294" width="5" height="7" fill="#5c1610"/>
<rect x="753" y="295" width="3" height="5" fill="#e0543f"/>
<rect x="761" y="303" width="1" height="41" fill="#737378"/>
<rect x="759" y="303" width="5" height="38" fill="#5c1610"/>
<rect x="760" y="304" width="3" height="36" fill="#e0543f"/>
<rect x="768" y="321" width="1" height="42" fill="#737378"/>
<rect x="766" y="340" width="5" height="23" fill="#5c1610"/>
<rect x="767" y="341" width="3" height="21" fill="#e0543f"/>
<rect x="775" y="343" width="1" height="41" fill="#737378"/>
<rect x="773" y="352" width="5" height="21" fill="#5c1610"/>
<rect x="774" y="353" width="3" height="19" fill="#e0543f"/>
<rect x="783" y="341" width="1" height="35" fill="#737378"/>
<rect x="781" y="346" width="5" height="19" fill="#1e5233"/>
<rect x="782" y="347" width="3" height="17" fill="#6aa883"/>
<rect x="790" y="332" width="1" height="42" fill="#737378"/>
<rect x="788" y="355" width="5" height="12" fill="#5c1610"/>
<rect x="789" y="356" width="3" height="10" fill="#e0543f"/>
<rect x="797" y="351" width="1" height="36" fill="#737378"/>
<rect x="795" y="360" width="5" height="16" fill="#5c1610"/>
<rect x="796" y="361" width="3" height="14" fill="#e0543f"/>
<rect x="804" y="360" width="1" height="36" fill="#737378"/>
<rect x="802" y="374" width="5" height="1" fill="#1e5233"/>
<rect x="811" y="369" width="1" height="27" fill="#737378"/>
<rect x="809" y="372" width="5" height="1" fill="#1e5233"/>
<rect x="818" y="356" width="1" height="40" fill="#737378"/>
<rect x="816" y="373" width="5" height="1" fill="#1e5233"/>
<rect x="826" y="373" width="1" height="41" fill="#737378"/>
<rect x="824" y="376" width="5" height="18" fill="#5c1610"/>
<rect x="825" y="377" width="3" height="16" fill="#e0543f"/>
<rect x="833" y="373" width="1" height="47" fill="#737378"/>
<rect x="831" y="387" width="5" height="22" fill="#5c1610"/>
<rect x="832" y="388" width="3" height="20" fill="#e0543f"/>
<rect x="840" y="387" width="1" height="22" fill="#737378"/>
<rect x="838" y="387" width="5" height="22" fill="#1e5233"/>
<rect x="839" y="388" width="3" height="20" fill="#6aa883"/>
<rect x="847" y="394" width="1" height="41" fill="#737378"/>
<rect x="845" y="398" width="5" height="23" fill="#5c1610"/>
<rect x="846" y="399" width="3" height="21" fill="#e0543f"/>
<rect x="854" y="408" width="1" height="32" fill="#737378"/>
<rect x="852" y="421" width="5" height="3" fill="#5c1610"/>
<rect x="853" y="422" width="3" height="1" fill="#e0543f"/>
<rect x="861" y="401" width="1" height="41" fill="#737378"/>
<rect x="859" y="421" width="5" height="5" fill="#5c1610"/>
<rect x="860" y="422" width="3" height="3" fill="#e0543f"/>
<rect x="869" y="404" width="1" height="29" fill="#737378"/>
<rect x="867" y="412" width="5" height="16" fill="#1e5233"/>
<rect x="868" y="413" width="3" height="14" fill="#6aa883"/>
<rect x="876" y="395" width="1" height="33" fill="#737378"/>
<rect x="874" y="412" width="5" height="2" fill="#5c1610"/>
<rect x="883" y="403" width="1" height="54" fill="#737378"/>
<rect x="881" y="409" width="5" height="37" fill="#5c1610"/>
<rect x="882" y="410" width="3" height="35" fill="#e0543f"/>
<rect x="890" y="424" width="1" height="35" fill="#737378"/>
<rect x="888" y="429" width="5" height="10" fill="#1e5233"/>
<rect x="889" y="430" width="3" height="8" fill="#6aa883"/>
<rect x="897" y="436" width="1" height="33" fill="#737378"/>
<rect x="895" y="436" width="5" height="26" fill="#5c1610"/>
<rect x="896" y="437" width="3" height="24" fill="#e0543f"/>
<rect x="905" y="445" width="1" height="47" fill="#737378"/>
<rect x="903" y="459" width="5" height="7" fill="#1e5233"/>
<rect x="904" y="460" width="3" height="5" fill="#6aa883"/>
<rect x="912" y="429" width="1" height="31" fill="#737378"/>
<rect x="910" y="455" width="5" height="5" fill="#1e5233"/>
<rect x="911" y="456" width="3" height="3" fill="#6aa883"/>
<rect x="919" y="437" width="1" height="35" fill="#737378"/>
<rect x="917" y="441" width="5" height="16" fill="#1e5233"/>
<rect x="918" y="442" width="3" height="14" fill="#6aa883"/>
<rect x="926" y="427" width="1" height="39" fill="#737378"/>
<rect x="924" y="430" width="5" height="23" fill="#1e5233"/>
<rect x="925" y="431" width="3" height="21" fill="#6aa883"/>
<rect x="933" y="389" width="1" height="54" fill="#737378"/>
<rect x="931" y="399" width="5" height="35" fill="#1e5233"/>
<rect x="932" y="400" width="3" height="33" fill="#6aa883"/>
<rect x="940" y="376" width="1" height="27" fill="#737378"/>
<rect x="938" y="399" width="5" height="4" fill="#1e5233"/>
<rect x="939" y="400" width="3" height="2" fill="#6aa883"/>
<rect x="948" y="394" width="1" height="29" fill="#737378"/>
<rect x="946" y="399" width="5" height="23" fill="#5c1610"/>
<rect x="947" y="400" width="3" height="21" fill="#e0543f"/>
<rect x="955" y="414" width="1" height="26" fill="#737378"/>
<rect x="953" y="419" width="5" height="8" fill="#5c1610"/>
<rect x="954" y="420" width="3" height="6" fill="#e0543f"/>
<rect x="962" y="429" width="1" height="37" fill="#737378"/>
<rect x="960" y="432" width="5" height="22" fill="#5c1610"/>
<rect x="961" y="433" width="3" height="20" fill="#e0543f"/>
<rect x="969" y="417" width="1" height="43" fill="#737378"/>
<rect x="967" y="421" width="5" height="34" fill="#1e5233"/>
<rect x="968" y="422" width="3" height="32" fill="#6aa883"/>
<rect x="976" y="425" width="1" height="40" fill="#737378"/>
<rect x="974" y="435" width="5" height="30" fill="#5c1610"/>
<rect x="975" y="436" width="3" height="28" fill="#e0543f"/>
<rect x="984" y="429" width="1" height="36" fill="#737378"/>
<rect x="982" y="435" width="5" height="30" fill="#1e5233"/>
<rect x="983" y="436" width="3" height="28" fill="#6aa883"/>
<rect x="991" y="437" width="1" height="47" fill="#737378"/>
<rect x="989" y="440" width="5" height="32" fill="#5c1610"/>
<rect x="990" y="441" width="3" height="30" fill="#e0543f"/>
<rect x="998" y="450" width="1" height="32" fill="#737378"/>
<rect x="996" y="476" width="5" height="3" fill="#5c1610"/>
<rect x="997" y="477" width="3" height="1" fill="#e0543f"/>
<rect x="1005" y="447" width="1" height="28" fill="#737378"/>
<rect x="1003" y="466" width="5" height="9" fill="#1e5233"/>
<rect x="1004" y="467" width="3" height="7" fill="#6aa883"/>
<rect x="1012" y="433" width="1" height="34" fill="#737378"/>
<rect x="1010" y="443" width="5" height="21" fill="#1e5233"/>
<rect x="1011" y="444" width="3" height="19" fill="#6aa883"/>
<rect x="1019" y="425" width="1" height="26" fill="#737378"/>
<rect x="1017" y="433" width="5" height="15" fill="#1e5233"/>
<rect x="1018" y="434" width="3" height="13" fill="#6aa883"/>
<rect x="1027" y="455" width="1" height="24" fill="#737378"/>
<rect x="1025" y="462" width="5" height="5" fill="#1e5233"/>
<rect x="1026" y="463" width="3" height="3" fill="#6aa883"/>
<rect x="1034" y="469" width="1" height="46" fill="#737378"/>
<rect x="1032" y="469" width="5" height="46" fill="#5c1610"/>
<rect x="1033" y="470" width="3" height="44" fill="#e0543f"/>
<rect x="1041" y="510" width="1" height="68" fill="#737378"/>
<rect x="1039" y="510" width="5" height="12" fill="#5c1610"/>
<rect x="1040" y="511" width="3" height="10" fill="#e0543f"/>
<rect x="1048" y="501" width="1" height="51" fill="#737378"/>
<rect x="1046" y="524" width="5" height="17" fill="#5c1610"/>
<rect x="1047" y="525" width="3" height="15" fill="#e0543f"/>
<rect x="1055" y="516" width="1" height="47" fill="#737378"/>
<rect x="1053" y="526" width="5" height="15" fill="#1e5233"/>
<rect x="1054" y="527" width="3" height="13" fill="#6aa883"/>
<rect x="1062" y="529" width="1" height="25" fill="#737378"/>
<rect x="1060" y="529" width="5" height="3" fill="#5c1610"/>
<rect x="1061" y="530" width="3" height="1" fill="#e0543f"/>
<rect x="1070" y="538" width="1" height="70" fill="#737378"/>
<rect x="1068" y="544" width="5" height="64" fill="#5c1610"/>
<rect x="1069" y="545" width="3" height="62" fill="#e0543f"/>
<rect x="1077" y="591" width="1" height="32" fill="#737378"/>
<rect x="1075" y="597" width="5" height="16" fill="#5c1610"/>
<rect x="1076" y="598" width="3" height="14" fill="#e0543f"/>
<rect x="1084" y="608" width="1" height="21" fill="#737378"/>
<rect x="1082" y="615" width="5" height="13" fill="#5c1610"/>
<rect x="1083" y="616" width="3" height="11" fill="#e0543f"/>
<rect x="1091" y="624" width="1" height="25" fill="#737378"/>
<rect x="1089" y="624" width="5" height="21" fill="#5c1610"/>
<rect x="1090" y="625" width="3" height="19" fill="#e0543f"/>
<rect x="1098" y="618" width="1" height="32" fill="#737378"/>
<rect x="1096" y="636" width="5" height="13" fill="#1e5233"/>
<rect x="1097" y="637" width="3" height="11" fill="#6aa883"/>
<rect x="1106" y="618" width="1" height="31" fill="#737378"/>
<rect x="1104" y="643" width="5" height="2" fill="#5c1610"/>
<rect x="1113" y="602" width="1" height="29" fill="#737378"/>
<rect x="1111" y="617" width="5" height="9" fill="#1e5233"/>
<rect x="1112" y="618" width="3" height="7" fill="#6aa883"/>
<rect x="1120" y="586" width="1" height="38" fill="#737378"/>
<rect x="1118" y="613" width="5" height="11" fill="#1e5233"/>
<rect x="1119" y="614" width="3" height="9" fill="#6aa883"/>
<rect x="1127" y="562" width="1" height="53" fill="#737378"/>
<rect x="1125" y="562" width="5" height="31" fill="#1e5233"/>
<rect x="1126" y="563" width="3" height="29" fill="#6aa883"/>
<rect x="1134" y="537" width="1" height="47" fill="#737378"/>
<rect x="1132" y="556" width="5" height="20" fill="#1e5233"/>
<rect x="1133" y="557" width="3" height="18" fill="#6aa883"/>
<rect x="1141" y="541" width="1" height="36" fill="#737378"/>
<rect x="1139" y="557" width="5" height="14" fill="#5c1610"/>
<rect x="1140" y="558" width="3" height="12" fill="#e0543f"/>
<rect x="1149" y="552" width="1" height="34" fill="#737378"/>
<rect x="1147" y="566" width="5" height="3" fill="#1e5233"/>
<rect x="1148" y="567" width="3" height="1" fill="#6aa883"/>
<rect x="1156" y="557" width="1" height="21" fill="#737378"/>
<rect x="1154" y="561" width="5" height="7" fill="#1e5233"/>
<rect x="1155" y="562" width="3" height="5" fill="#6aa883"/>
<rect x="1163" y="545" width="1" height="29" fill="#737378"/>
<rect x="1161" y="552" width="5" height="16" fill="#1e5233"/>
<rect x="1162" y="553" width="3" height="14" fill="#6aa883"/>
<rect x="1170" y="552" width="1" height="32" fill="#737378"/>
<rect x="1168" y="552" width="5" height="24" fill="#5c1610"/>
<rect x="1169" y="553" width="3" height="22" fill="#e0543f"/>
<rect x="1177" y="562" width="1" height="27" fill="#737378"/>
<rect x="1175" y="572" width="5" height="12" fill="#5c1610"/>
<rect x="1176" y="573" width="3" height="10" fill="#e0543f"/>
<rect x="1184" y="571" width="1" height="25" fill="#737378"/>
<rect x="1182" y="572" width="5" height="11" fill="#1e5233"/>
<rect x="1183" y="573" width="3" height="9" fill="#6aa883"/>
<rect x="1192" y="502" width="1" height="78" fill="#737378"/>
<rect x="1190" y="507" width="5" height="72" fill="#1e5233"/>
<rect x="1191" y="508" width="3" height="70" fill="#6aa883"/>
<rect x="1199" y="510" width="1" height="30" fill="#737378"/>
<rect x="1197" y="513" width="5" height="18" fill="#5c1610"/>
<rect x="1198" y="514" width="3" height="16" fill="#e0543f"/>
<rect x="1206" y="518" width="1" height="43" fill="#737378"/>
<rect x="1204" y="534" width="5" height="4" fill="#5c1610"/>
<rect x="1205" y="535" width="3" height="2" fill="#e0543f"/>
<rect x="1213" y="526" width="1" height="23" fill="#737378"/>
<rect x="1211" y="532" width="5" height="6" fill="#1e5233"/>
<rect x="1212" y="533" width="3" height="4" fill="#6aa883"/>
<rect x="1220" y="507" width="1" height="34" fill="#737378"/>
<rect x="1218" y="508" width="5" height="32" fill="#1e5233"/>
<rect x="1219" y="509" width="3" height="30" fill="#6aa883"/>
<rect x="1228" y="486" width="1" height="43" fill="#737378"/>
<rect x="1226" y="506" width="5" height="8" fill="#1e5233"/>
<rect x="1227" y="507" width="3" height="6" fill="#6aa883"/>
<rect x="1235" y="480" width="1" height="42" fill="#737378"/>
<rect x="1233" y="501" width="5" height="10" fill="#5c1610"/>
<rect x="1234" y="502" width="3" height="8" fill="#e0543f"/>
<rect x="1242" y="501" width="1" height="27" fill="#737378"/>
<rect x="1240" y="511" width="5" height="10" fill="#5c1610"/>
<rect x="1241" y="512" width="3" height="8" fill="#e0543f"/>
<rect x="1249" y="518" width="1" height="29" fill="#737378"/>
<rect x="1247" y="518" width="5" height="28" fill="#5c1610"/>
<rect x="1248" y="519" width="3" height="26" fill="#e0543f"/>
<rect x="1256" y="519" width="1" height="36" fill="#737378"/>
<rect x="1254" y="524" width="5" height="13" fill="#1e5233"/>
<rect x="1255" y="525" width="3" height="11" fill="#6aa883"/>
<rect x="1263" y="519" width="1" height="47" fill="#737378"/>
<rect x="1261" y="519" width="5" height="44" fill="#5c1610"/>
<rect x="1262" y="520" width="3" height="42" fill="#e0543f"/>
<rect x="1271" y="535" width="1" height="35" fill="#737378"/>
<rect x="1269" y="556" width="5" height="1" fill="#1e5233"/>
<rect x="1278" y="484" width="1" height="85" fill="#737378"/>
<rect x="1276" y="491" width="5" height="74" fill="#1e5233"/>
<rect x="1277" y="492" width="3" height="72" fill="#6aa883"/>
<rect x="1285" y="452" width="1" height="41" fill="#737378"/>
<rect x="1283" y="469" width="5" height="24" fill="#1e5233"/>
<rect x="1284" y="470" width="3" height="22" fill="#6aa883"/>
<rect x="1292" y="454" width="1" height="39" fill="#737378"/>
<rect x="1290" y="454" width="5" height="39" fill="#5c1610"/>
<rect x="1291" y="455" width="3" height="37" fill="#e0543f"/>
<rect x="1299" y="465" width="1" height="24" fill="#737378"/>
<rect x="1297" y="472" width="5" height="17" fill="#1e5233"/>
<rect x="1298" y="473" width="3" height="15" fill="#6aa883"/>
<rect x="1307" y="447" width="1" height="36" fill="#737378"/>
<rect x="1305" y="449" width="5" height="32" fill="#1e5233"/>
<rect x="1306" y="450" width="3" height="30" fill="#6aa883"/>
<rect x="1314" y="432" width="1" height="33" fill="#737378"/>
<rect x="1312" y="443" width="5" height="10" fill="#1e5233"/>
<rect x="1313" y="444" width="3" height="8" fill="#6aa883"/>
<rect x="1321" y="434" width="1" height="22" fill="#737378"/>
<rect x="1319" y="444" width="5" height="12" fill="#5c1610"/>
<rect x="1320" y="445" width="3" height="10" fill="#e0543f"/>
<line x1="2" y1="455.5" x2="1389" y2="455.5" stroke="#e0543f" stroke-width="1" stroke-dasharray="1 2"/>
</g>
<rect x="2" y="685" width="1447" height="1" fill="#e0e3eb"/>
<rect x="2" y="686" width="1447" height="1" fill="#e4e4e6"/>
<rect x="2" y="715" width="1447" height="1" fill="#e0e3eb"/>
<g clip-path="url(#cpAtr)">
<polyline points="2,705.8 15,707.5 30,706.3 50,706.8 70,706.3 85,705.8 100,703.8 115,703 130,698.8 145,698.3 151,696.8 157.5,698 165,698.5 172.5,695.8 185,696.5 195,697 202.5,698 215,696.8 222.5,694.5 236.3,695 243.8,687.5 252.5,687.5 265,689 272.5,690.5 280,688.5 286.3,687.5 293.8,689.3 302.5,689.5 315,692 330,693.8 345,697 352.5,697.8 363,696.8 373,698 388,699 400.5,699.5 410.5,701.3 423,700.8 435.5,701.8 450.5,703.8 459.3,701.5 474.3,702.5 480.5,700 493,701.5 505.5,702.5 518,704.3 533,706 545.5,707 558,708.8 578,709.5 595.5,711.5 603,710 613,710.3 628,711.5 638,711.3 648,709.8 668,709.5 685.5,708.8 698,709.3 718,709 726,709.6 738.5,710.5 756,709.5 776,709.3 801,709.8 813.5,710.5 826,710 833.5,709.5 841,710.8 848.5,710.3 863.5,710.5 876,711.3 883.5,710.3 896,710.3 904.8,709.5 916,710.3 926,710.3 933.5,709.3 943.5,710.3 954.8,711.5 966,711.3 976,710.8 983.5,711.3 991,710.3 1006,711 1019.8,711.8 1031,710.9 1041.3,708.4 1055,707.4 1062.5,708.1 1070,705.9 1077.5,706.6 1090,708.8 1105,710 1120,709.8 1135,708.5 1147.5,709.3 1157.5,710.5 1172.5,711.5 1183.8,712.5 1191.3,710 1205,710 1215,711 1232.5,710.5 1245,711.5 1255,711.8 1271.3,711.3 1278.3,708.8 1290,708.5 1300,709.5 1312.5,710 1321,711.3" fill="none" stroke="#b52a33" stroke-width="1.2" stroke-linejoin="round" stroke-linecap="butt"/>
</g>
<g clip-path="url(#cpCci)">
<rect x="2" y="744.5" width="1387" height="29" fill="#e8f3fe"/>
<line x1="2" y1="744.5" x2="1389" y2="744.5" stroke="#6a6d78" stroke-width="1" stroke-dasharray="5.5 5.5"/>
<line x1="2" y1="758.5" x2="1389" y2="758.5" stroke="#9a9da6" stroke-width="1" stroke-dasharray="5.5 5.5"/>
<line x1="2" y1="773.5" x2="1389" y2="773.5" stroke="#6a6d78" stroke-width="1" stroke-dasharray="5.5 5.5"/>
<polyline points="2,723 10,732.5 25,744.3 36.3,749.3 50,747.5 65,746.3 78.8,747.5 86.3,744.5 95,736.3 110,735.5 122.5,732 127.5,738.8 142.5,740.8 165,741.8 172.5,745.5 185,743.3 193.8,741.3 200,743.3 207.5,744.3 215,738.3 222.5,740.5 230,745 236.3,747 243.8,746 250.8,763.8 258.8,763.3 272.5,768 280,782.5 287,782.5 293.8,776.8 301.3,779 308.8,771.8 316.3,768.8 323.8,767.3 337.5,766.8 345,764.3 352.5,765 363,768.1 366,769.3 373,766.5 380.5,773 387.5,765.5 394.8,769.3 401.8,756.3 409.3,743.3 416,726.8 423.8,731.3 430.8,722.5 438,732.5 445,736.8 452.5,744.5 460,760 467,765.8 474.3,761 481,737.5 488,741.8 495,745.5 503,751.3 509.8,754.5 516.8,751.3 524.3,747.5 531,747.5 538.8,758 546,765.8 553,767.5 560.5,773 567.5,776.3 574.3,778 581.8,770.8 589,765.8 596,767.5 603,777.5 610,777.5 617,780.8 624.8,778 631.8,777 638.8,772 646,764.3 653,764.5 660.5,761.8 667.5,759.3 674.8,757.8 681.8,763.8 689,761 696.3,769.5 703.5,771.5 710.8,776.3 718,769.5 726,765.5 732.3,756.8 739,755 746.8,741.8 754,739 761,755.8 768,765.8 775,775.5 783,768.5 790.3,769 797.3,774 804.5,775 811,774.5 818.3,772 826,779 833,780.5 840,775 847.3,781 854.3,780.3 861.8,776.8 869,773 876,770.5 883,775.8 890.3,775.3 897.3,779.5 904.5,780.5 912.3,772.5 919,772.5 926,768 933,755.8 940,747.8 947.8,755.5 954.8,760.8 961.8,771 969,761.5 976,770.5 984,764.8 991,775.8 998,777 1005,771.5 1012.3,762.5 1019,754.8 1026.5,771.3 1034,787.5 1041,796.5 1048,787.5 1055,782.5 1062.3,779.5 1070,785.1 1077,784.2 1084.4,781.9 1091.3,781 1098.3,777 1106.3,775 1113.3,770.8 1120.3,768.3 1127.5,763.8 1134.5,759.5 1141.5,759.5 1149.5,759.8 1156.3,757.8 1163.3,754.3 1170.3,756 1177.5,757.5 1183.8,757.8 1191.8,740 1198.8,739.3 1205.8,743.5 1213.8,744 1220.8,740 1228,738.5 1235,739.8 1242,745.5 1249.3,751.8 1256.3,752.5 1263.8,759.8 1271.3,763 1278.3,745 1285.3,730.3 1292.5,736.5 1299.5,737.8 1306.5,735.5 1313.8,734.5 1321,738.3" fill="none" stroke="#3d78f2" stroke-width="1.2" stroke-linejoin="round" stroke-linecap="butt"/>
</g>
<rect x="6" y="5" width="805" height="20.4" fill="#fff" fill-opacity="0.96"/>
<rect x="6" y="25.4" width="805" height="3.4" fill="#fff" fill-opacity="0.7"/>
<rect x="2" y="31" width="156" height="28" fill="#fff" fill-opacity="0.92"/>
<rect x="2" y="61" width="550" height="24" fill="#fff" fill-opacity="0.85"/>
<g clip-path="url(#cpFlag)">
<rect x="11" y="8" width="18" height="18" fill="#0c3fa6"/>
<path d="M11 8 L29 26 M29 8 L11 26" stroke="#fff" stroke-width="4.2"/>
<path d="M11 8 L29 26 M29 8 L11 26" stroke="#ee3a43" stroke-width="1.5"/>
<path d="M20 8 V26 M11 17 H29" stroke="#fff" stroke-width="4.4"/>
<path d="M20 8 V26 M11 17 H29" stroke="#ee3338" stroke-width="2"/>
</g>
<text x="33.6" y="22.8" font-size="15" fill="#4c4c4c" font-weight="normal" text-anchor="start" textLength="411.5" lengthAdjust="spacingAndGlyphs">United Kingdom 2 Year Government Bonds Yield · 1D · TVC</text>
<circle cx="468.4" cy="17" r="8.7" fill="#d6efe8"/>
<circle cx="468.4" cy="17" r="4" fill="#0a9981"/>
<text x="493.5" y="22.2" font-size="12.6" fill="#555" font-weight="normal" text-anchor="start" textLength="8.4" lengthAdjust="spacingAndGlyphs">O</text>
<text x="502.7" y="22.2" font-size="12.8" fill="#651d17" font-weight="normal" text-anchor="start" textLength="41" lengthAdjust="spacingAndGlyphs">4.567%</text>
<text x="549.2" y="22.2" font-size="12.6" fill="#555" font-weight="normal" text-anchor="start" textLength="8.4" lengthAdjust="spacingAndGlyphs">H</text>
<text x="558.5" y="22.2" font-size="12.8" fill="#651d17" font-weight="normal" text-anchor="start" textLength="41" lengthAdjust="spacingAndGlyphs">4.595%</text>
<text x="604.3" y="22.2" font-size="12.6" fill="#555" font-weight="normal" text-anchor="start" textLength="6.2" lengthAdjust="spacingAndGlyphs">L</text>
<text x="611" y="22.2" font-size="12.8" fill="#651d17" font-weight="normal" text-anchor="start" textLength="41" lengthAdjust="spacingAndGlyphs">4.532%</text>
<text x="657.4" y="22.2" font-size="12.6" fill="#555" font-weight="normal" text-anchor="start" textLength="8.2" lengthAdjust="spacingAndGlyphs">C</text>
<text x="666" y="22.2" font-size="12.8" fill="#651d17" font-weight="normal" text-anchor="start" textLength="41" lengthAdjust="spacingAndGlyphs">4.534%</text>
<text x="712.7" y="22.2" font-size="12.8" fill="#651d17" font-weight="normal" text-anchor="start" textLength="92" lengthAdjust="spacingAndGlyphs">−0.035 (−0.77%)</text>
<rect x="11" y="33.5" width="46.5" height="23" rx="3.5" fill="#fff" stroke="#f23645" stroke-width="1"/>
<text x="18.3" y="49.8" font-size="13" fill="#f23645" font-weight="normal" text-anchor="start" textLength="31.7" lengthAdjust="spacingAndGlyphs">4.594</text>
<text x="66.5" y="49.8" font-size="12" fill="#333" font-weight="normal" text-anchor="start" textLength="32.3" lengthAdjust="spacingAndGlyphs">−0.021</text>
<rect x="108" y="33.5" width="46.5" height="23" rx="3.5" fill="#fff" stroke="#2962ff" stroke-width="1"/>
<text x="115" y="49.8" font-size="13" fill="#2962ff" font-weight="normal" text-anchor="start" textLength="31.8" lengthAdjust="spacingAndGlyphs">4.573</text>
<text x="10.8" y="78" font-size="12.8" fill="#5a5a5a" font-weight="normal" text-anchor="start" textLength="384" lengthAdjust="spacingAndGlyphs">MA Ribbon SMA close 20 SMA close 50 SMA close 100 SMA close 200</text>
<text x="402.5" y="78" font-size="13" fill="#f23645" font-weight="normal" text-anchor="start" textLength="39.5" lengthAdjust="spacingAndGlyphs">4.375%</text>
<text x="448.8" y="78" font-size="13" fill="#2962ff" font-weight="normal" text-anchor="start" textLength="39.2" lengthAdjust="spacingAndGlyphs">4.318%</text>
<text x="494.8" y="78" font-size="13" fill="#444" font-weight="normal" text-anchor="start" textLength="6.5" lengthAdjust="spacingAndGlyphs">∅</text>
<text x="508.5" y="78" font-size="13" fill="#222" font-weight="normal" text-anchor="start" textLength="39.5" lengthAdjust="spacingAndGlyphs">4.685%</text>
<rect x="11.5" y="87.5" width="28" height="20" rx="3" fill="#fff" stroke="#d1d4dc" stroke-width="1"/>
<path d="M21.8 99.3 L25.5 95.8 L29.2 99.3" fill="none" stroke="#1c1c24" stroke-width="1.25"/>
<rect x="6" y="690" width="121" height="22" fill="#fff" fill-opacity="0.75"/>
<text x="11.3" y="707" font-size="12.4" fill="#555" font-weight="normal" text-anchor="start" textLength="67" lengthAdjust="spacingAndGlyphs">ATR 14 RMA</text>
<text x="86.9" y="707" font-size="12.4" fill="#b52a33" font-weight="normal" text-anchor="start" textLength="38.8" lengthAdjust="spacingAndGlyphs">0.110%</text>
<rect x="6" y="720" width="160" height="22" fill="#fff" fill-opacity="0.75"/>
<text x="11.3" y="736.7" font-size="12.5" fill="#555" font-weight="normal" text-anchor="start" textLength="101.1" lengthAdjust="spacingAndGlyphs">CCI 20 hlc3 SMA 5</text>
<text x="122.2" y="736.7" font-size="12.5" fill="#2962ff" font-weight="normal" text-anchor="start" textLength="37.2" lengthAdjust="spacingAndGlyphs">140.70</text>
<g transform="translate(14,773.5)">
<path d="M-1 -1 H31 V16 H-1 Z" fill="#fff"/>
<path d="M0 0 H12 V14.5 H6 V6 H0 Z" fill="#131722"/>
<circle cx="16.7" cy="3" r="2.9" fill="#131722"/>
<path d="M23 0 H30 L24 14.5 H17.2 Z" fill="#131722"/>
</g>
<rect x="1389" y="1" width="1" height="829" fill="#4a4a4a"/>
<rect x="2" y="802" width="1447" height="1" fill="#4a4a4a"/>
<g clip-path="url(#cpAxMain)">
<text x="1397.2" y="63.3" font-size="12" fill="#555" font-weight="normal" text-anchor="start" textLength="36.1" lengthAdjust="spacingAndGlyphs">5.700%</text>
<text x="1397.2" y="97.3" font-size="12" fill="#555" font-weight="normal" text-anchor="start" textLength="36.1" lengthAdjust="spacingAndGlyphs">5.600%</text>
<text x="1397.2" y="131.3" font-size="12" fill="#555" font-weight="normal" text-anchor="start" textLength="36.1" lengthAdjust="spacingAndGlyphs">5.500%</text>
<text x="1397.2" y="165.3" font-size="12" fill="#555" font-weight="normal" text-anchor="start" textLength="36.1" lengthAdjust="spacingAndGlyphs">5.400%</text>
<text x="1397.2" y="199.3" font-size="12" fill="#555" font-weight="normal" text-anchor="start" textLength="36.1" lengthAdjust="spacingAndGlyphs">5.300%</text>
<text x="1397.2" y="233.3" font-size="12" fill="#555" font-weight="normal" text-anchor="start" textLength="36.1" lengthAdjust="spacingAndGlyphs">5.200%</text>
<text x="1397.2" y="267.3" font-size="12" fill="#555" font-weight="normal" text-anchor="start" textLength="36.1" lengthAdjust="spacingAndGlyphs">5.100%</text>
<text x="1397.2" y="301.3" font-size="12" fill="#555" font-weight="normal" text-anchor="start" textLength="36.1" lengthAdjust="spacingAndGlyphs">5.000%</text>
<text x="1397.2" y="335.3" font-size="12" fill="#555" font-weight="normal" text-anchor="start" textLength="36.1" lengthAdjust="spacingAndGlyphs">4.900%</text>
<text x="1397.2" y="369.3" font-size="12" fill="#555" font-weight="normal" text-anchor="start" textLength="36.1" lengthAdjust="spacingAndGlyphs">4.800%</text>
<text x="1397.2" y="403.3" font-size="12" fill="#555" font-weight="normal" text-anchor="start" textLength="36.1" lengthAdjust="spacingAndGlyphs">4.700%</text>
<text x="1397.2" y="437.3" font-size="12" fill="#555" font-weight="normal" text-anchor="start" textLength="36.1" lengthAdjust="spacingAndGlyphs">4.600%</text>
<text x="1397.2" y="471.3" font-size="12" fill="#555" font-weight="normal" text-anchor="start" textLength="36.1" lengthAdjust="spacingAndGlyphs">4.500%</text>
<text x="1397.2" y="504.3" font-size="12" fill="#555" font-weight="normal" text-anchor="start" textLength="36.1" lengthAdjust="spacingAndGlyphs">4.400%</text>
<text x="1397.2" y="538.3" font-size="12" fill="#555" font-weight="normal" text-anchor="start" textLength="36.1" lengthAdjust="spacingAndGlyphs">4.300%</text>
<text x="1397.2" y="572.3" font-size="12" fill="#555" font-weight="normal" text-anchor="start" textLength="36.1" lengthAdjust="spacingAndGlyphs">4.200%</text>
<text x="1397.2" y="606.3" font-size="12" fill="#555" font-weight="normal" text-anchor="start" textLength="36.1" lengthAdjust="spacingAndGlyphs">4.100%</text>
<text x="1397.2" y="640.3" font-size="12" fill="#555" font-weight="normal" text-anchor="start" textLength="36.1" lengthAdjust="spacingAndGlyphs">4.000%</text>
<text x="1397.2" y="674.3" font-size="12" fill="#555" font-weight="normal" text-anchor="start" textLength="36.1" lengthAdjust="spacingAndGlyphs">3.900%</text>
</g>
<g clip-path="url(#cpAxAtr)">
<text x="1397.2" y="691.1" font-size="12" fill="#555" font-weight="normal" text-anchor="start" textLength="36.1" lengthAdjust="spacingAndGlyphs">0.200%</text>
</g>
<g clip-path="url(#cpAxCci)">
<text x="1397.2" y="726.9" font-size="12" fill="#555" font-weight="normal" text-anchor="start" textLength="35" lengthAdjust="spacingAndGlyphs">250.00</text>
<text x="1397.2" y="761.9" font-size="12" fill="#555" font-weight="normal" text-anchor="start" textLength="22.5" lengthAdjust="spacingAndGlyphs">0.00</text>
<text x="1397.2" y="797.9" font-size="12" fill="#555" font-weight="normal" text-anchor="start" textLength="42.5" lengthAdjust="spacingAndGlyphs">−250.00</text>
</g>
<rect x="1393.5" y="5.5" width="51" height="25" rx="4" fill="#fff" stroke="#e0e3eb" stroke-width="1"/>
<text x="1397" y="22" font-size="11" fill="#131722" font-weight="normal" text-anchor="start" textLength="7.4" lengthAdjust="spacingAndGlyphs">%</text>
<path d="M1390 370.0 H1437 Q1439 370.0 1439 372.0 V385.0 Q1439 387.0 1437 387.0 H1390 Z" fill="#000"/>
<rect x="1386" y="376.8" width="4" height="2.4" fill="#000"/>
<text x="1397.2" y="382.4" font-size="12" fill="#fff" font-weight="bold" text-anchor="start" textLength="36.3" lengthAdjust="spacingAndGlyphs">4.761%</text>
<path d="M1390 605.0 H1437 Q1439 605.0 1439 607.0 V620.0 Q1439 622.0 1437 622.0 H1390 Z" fill="#000"/>
<rect x="1386" y="611.8" width="4" height="2.4" fill="#000"/>
<text x="1397.2" y="617.4" font-size="12" fill="#fff" font-weight="bold" text-anchor="start" textLength="36.3" lengthAdjust="spacingAndGlyphs">4.070%</text>
<text x="36.2" y="820.2" font-size="12" fill="#555" font-weight="normal" text-anchor="middle" textLength="18.4" lengthAdjust="spacingAndGlyphs">Jun</text>
<text x="194.2" y="820.2" font-size="12" fill="#555" font-weight="normal" text-anchor="middle" textLength="14.5" lengthAdjust="spacingAndGlyphs">Jul</text>
<text x="345.2" y="820.2" font-size="12" fill="#555" font-weight="normal" text-anchor="middle" textLength="21.5" lengthAdjust="spacingAndGlyphs">Aug</text>
<text x="510.2" y="820.2" font-size="12" fill="#555" font-weight="normal" text-anchor="middle" textLength="20.5" lengthAdjust="spacingAndGlyphs">Sep</text>
<text x="661.2" y="820.2" font-size="12" fill="#555" font-weight="normal" text-anchor="middle" textLength="19" lengthAdjust="spacingAndGlyphs">Oct</text>
<text x="818.2" y="820.2" font-size="12" fill="#555" font-weight="normal" text-anchor="middle" textLength="21" lengthAdjust="spacingAndGlyphs">Nov</text>
<text x="976.2" y="820.2" font-size="12" fill="#555" font-weight="normal" text-anchor="middle" textLength="20.5" lengthAdjust="spacingAndGlyphs">Dec</text>
<text x="1113.5" y="820.2" font-size="12" fill="#4a4a4a" font-weight="normal" text-anchor="middle" textLength="27.4" lengthAdjust="spacingAndGlyphs" stroke="#4a4a4a" stroke-width="0.45">2024</text>
<text x="1271.2" y="820.2" font-size="12" fill="#555" font-weight="normal" text-anchor="middle" textLength="19.5" lengthAdjust="spacingAndGlyphs">Feb</text>
<g transform="translate(1420,817)" fill="none" stroke="#222" stroke-width="1.2">
<path d="M-7 0 L-3.5 -6 H3.5 L7 0 L3.5 6 H-3.5 Z"/><circle cx="0" cy="0" r="2.2"/>
</g>
<g filter="url(#wmsh)"><g opacity="0.78"><text x="0" y="0" transform="translate(1202,787) skewX(-13)" font-family="'Liberation Sans', 'Noto Sans CJK SC', sans-serif" font-weight="900" font-size="55" fill="#fff" stroke="#fff" stroke-width="0.7" stroke-linejoin="miter" textLength="241" lengthAdjust="spacingAndGlyphs">海马财经</text></g></g>
<g opacity="0.52" filter="url(#zsh)"><text x="1218 1244.9 1272.1 1295.3 1316.3 1348.8 1374.5 1394.5 1420.1" y="826.4" font-family="'DejaVu Sans', 'Liberation Sans', sans-serif" font-weight="bold" font-style="italic" font-size="29.6" fill="#325bd7" stroke="#325bd7" stroke-width="1" stroke-linejoin="round">zzrt01.cn</text></g>
</svg>
</body></html>
